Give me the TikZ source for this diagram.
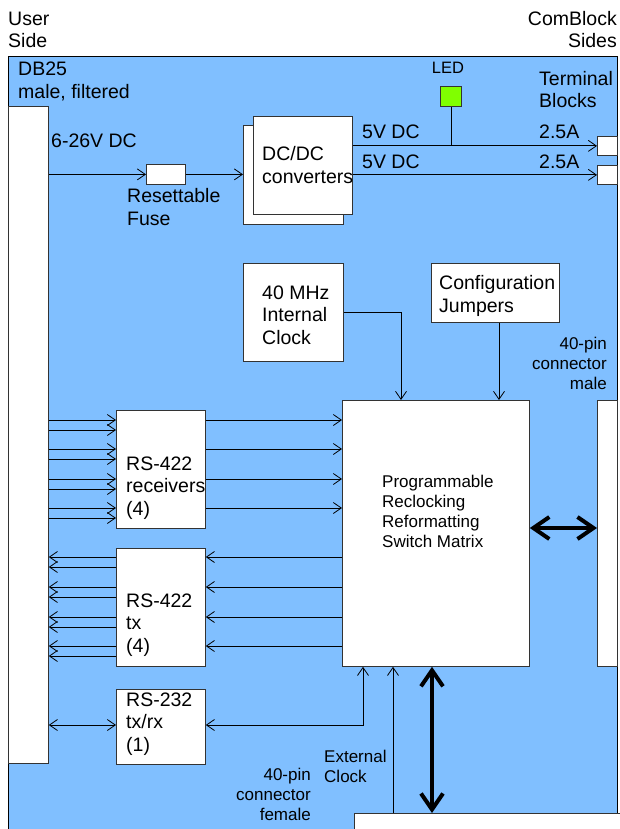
\documentclass[tikz,border=0pt]{standalone}
\usepackage{fontspec}
\setmainfont{Liberation Sans}
\usetikzlibrary{arrows.meta,calc}
\definecolor{bg}{RGB}{128,191,255}
\definecolor{ledgreen}{RGB}{128,255,0}
\begin{document}
\begin{tikzpicture}[x=1pt,y=-1pt,
  box/.style={draw=black!80,fill=white,line width=0.8pt,inner sep=0pt,anchor=north west},
  txt/.style={font=\fontsize{19.5}{22.5}\selectfont,inner sep=0pt,anchor=base west,align=left},
  stxt/.style={font=\fontsize{17}{20}\selectfont,inner sep=0pt,anchor=base west,align=left},
  arr/.style={line width=0.8pt,-{Straight Barb[length=8pt,width=11pt]}},
  dbl/.style={line width=0.8pt,{Straight Barb[length=8pt,width=11pt]}-{Straight Barb[length=8pt,width=11pt]}},
  fat/.style={line width=4pt,{Straight Barb[length=16pt,width=22pt]}-{Straight Barb[length=16pt,width=22pt]}}]
\useasboundingbox (0,0) rectangle (620,829);
\clip (0,0) rectangle (620,829);
% board
\fill[bg] (8,56) rectangle (617,860);
\draw[line width=0.8pt] (8,860) -- (8,56) -- (617,56) -- (617,860);
% boxes
\node[box,minimum width=40pt,minimum height=657pt] (db) at (8,106) {};
\node[box,minimum width=39pt,minimum height=20pt] (fuse) at (146,164) {};
\node[box,minimum width=100pt,minimum height=99pt] (dcb) at (243,125) {};
\node[box,minimum width=99pt,minimum height=98pt] (dcf) at (253,116) {};
\node[box,fill=ledgreen,minimum width=21pt,minimum height=20pt] (led) at (440,86) {};
\node[box,minimum width=20pt,minimum height=19pt] (tb1) at (597,136) {};
\node[box,minimum width=20pt,minimum height=19pt] (tb2) at (597,165) {};
\node[box,minimum width=100pt,minimum height=98pt] (clk) at (243,263) {};
\node[box,minimum width=128pt,minimum height=59pt] (cfg) at (431,263) {};
\node[box,minimum width=187pt,minimum height=266pt] (mx) at (342,400) {};
\node[box,minimum width=20pt,minimum height=266pt] (rc) at (597,400) {};
\node[box,minimum width=89pt,minimum height=118pt] (rx) at (116,410) {};
\node[box,minimum width=89pt,minimum height=118pt] (tx) at (116,548) {};
\node[box,minimum width=89pt,minimum height=75pt] (sr) at (116,689) {};
\node[box,minimum width=280pt,minimum height=40pt] (fc) at (354,813) {};
% texts (anchor = baseline of last line)
\node[txt] (tUser) at (8,48) {User\\Side};
\node[txt,anchor=base east,align=right] (tCom) at (617,48) {ComBlock\\Sides};
\node[txt] (tDB) at (18,98.5) {DB25\\male, filtered};
\node[txt] (tVin) at (51,148) {6-26V DC};
\node[txt] (tFuse) at (127,225) {Resettable\\Fuse};
\node[txt] (tDC) at (262,183) {DC/DC\\converters};
\node[txt] (t5a) at (362,139) {5V DC};
\node[txt] (t5b) at (362,168) {5V DC};
\node[txt] (tA1) at (539,139) {2.5A};
\node[txt] (tA2) at (539,168) {2.5A};
\node[font=\fontsize{16.5}{20}\selectfont,inner sep=0pt,anchor=base] (tLED) at (448,74) {LED};
\node[txt] (tTB) at (539,108) {Terminal\\Blocks};
\node[txt] (tClk) at (262,344) {40 MHz\\Internal\\Clock};
\node[txt] (tCfg) at (439,312) {Configuration\\Jumpers};
\node[stxt,anchor=base east,align=right] (tMale) at (607,389) {40-pin\\connector\\male};
\node[stxt] (tMx) at (382,547) {Programmable\\Reclocking\\Reformatting\\Switch Matrix};
\node[txt] (tRx) at (126,515) {RS-422\\receivers\\(4)};
\node[txt] (tTx) at (126,652) {RS-422\\tx\\(4)};
\node[txt] (tSr) at (126,751) {RS-232\\tx/rx\\(1)};
\node[stxt] (tExt) at (324,782) {External\\Clock};
\node[stxt,anchor=base east,align=right] (tFem) at (311,820) {40-pin\\connector\\female};
% power
\draw[arr] (db.east |- fuse.west) -- (fuse.west);
\draw[arr] (fuse.east) -- (dcb.west |- fuse.east);
\draw[arr] (dcf.east |- tb1.west) -- (tb1.west);
\draw[arr] (dcf.east |- tb2.west) -- (tb2.west);
\draw[line width=0.8pt] (led.south) -- (led.south |- tb1.west);
% clock, config
\draw[arr] (clk.east) -| (mx.north -| 401,0);
\draw[arr] (cfg.south -| 499,0) -- (mx.north -| 499,0);
% receivers
\foreach \y in {420,430,449,459,479,489,508,518}
  \draw[arr] (db.east |- 0,\y) -- (rx.west |- 0,\y);
\foreach \y in {420,449,479,508}
  \draw[arr] (rx.east |- 0,\y) -- (mx.west |- 0,\y);
% transmitters
\foreach \y in {557,587,617,646}
  \draw[arr] (mx.west |- 0,\y) -- (tx.east |- 0,\y);
\foreach \y in {557,567,587,597,617,627,646,656}
  \draw[arr] (tx.west |- 0,\y) -- (db.east |- 0,\y);
% rs232
\draw[dbl] (db.east |- 0,725) -- (sr.west |- 0,725);
\draw[dbl] (sr.east |- 0,725) -| (mx.south -| 363,0);
% external clock
\draw[arr] (fc.north -| 393,0) -- (mx.south -| 393,0);
% thick buses
\draw[fat] (mx.south -| 432,0) -- (fc.north -| 432,0);
\draw[fat] (mx.east |- 0,528) -- (rc.west |- 0,528);
\end{tikzpicture}
\end{document}
